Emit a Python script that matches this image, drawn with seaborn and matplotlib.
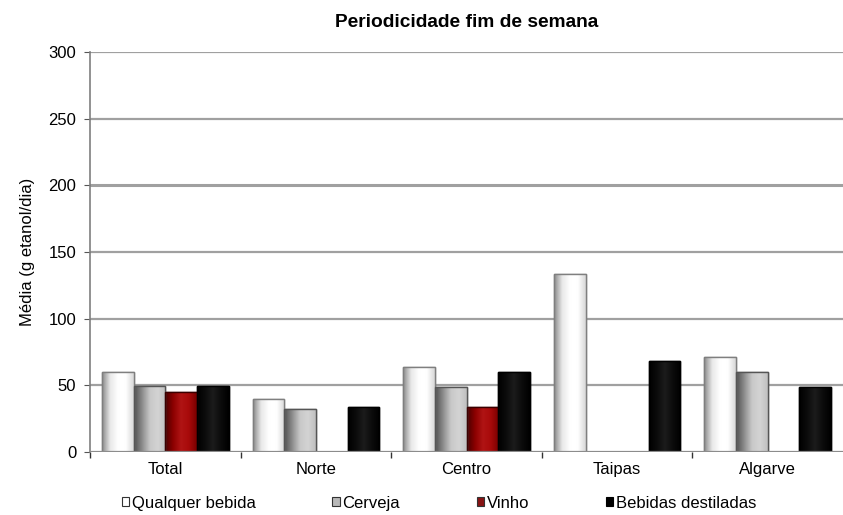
import numpy as np
import pandas as pd
import matplotlib
matplotlib.use("Agg")
import matplotlib.pyplot as plt
from matplotlib.colors import LinearSegmentedColormap
import seaborn as sns

regions = ["Total", "Norte", "Centro", "Taipas", "Algarve"]
drinks = ["Qualquer bebida", "Cerveja", "Vinho", "Bebidas destiladas"]
qualquer = [60, 39.5, 63.5, 133.5, 71]
cerveja = [49.5, 32.5, 48.5, np.nan, 60]
vinho = [45, np.nan, 33.5, np.nan, np.nan]
destiladas = [49.5, 34, 60, 68, 49]

yticks = [0, 50, 100, 150, 200, 250, 300]
title = "Periodicidade fim de semana"
ylabel = "Média (g etanol/dia)"

df = pd.DataFrame({
    "regiao": np.repeat(regions, len(drinks)),
    "bebida": drinks * len(regions),
    "valor": np.array([qualquer, cerveja, vinho, destiladas]).T.ravel(),
})

base_colors = ["#ffffff", "#b8b8b8", "#9a0000", "#000000"]
edge_colors = ["#7f7f7f", "#555555", "#3a0000", "#000000"]
# cylinder-like shading for each series (left -> right)
shades = [
    ["#8a8a8a", "#e8e8e8", "#ffffff", "#ffffff", "#d8d8d8"],
    ["#505050", "#8c8c8c", "#c8c8c8", "#d4d4d4", "#c0c0c0"],
    ["#4a0000", "#8c0000", "#b01414", "#a80a0a", "#7a0000"],
    ["#000000", "#0c0c0c", "#1c1c1c", "#0c0c0c", "#000000"],
]

plt.rcParams["font.family"] = ["Liberation Sans", "DejaVu Sans"]
fig = plt.figure(figsize=(8.43, 5.15), dpi=100)
ax = fig.add_axes([0.107, 0.122, 0.893, 0.777])

sns.barplot(data=df, x="regiao", y="valor", hue="bebida", hue_order=drinks,
            palette=base_colors, width=0.84, gap=0, ax=ax, zorder=2,
            legend=True, err_kws={"linewidth": 0})

# gradient fill over each bar, clipped to the bar shape
for i, cont in enumerate(ax.containers):
    cmap = LinearSegmentedColormap.from_list("s%d" % i, shades[i])
    grad = np.linspace(0, 1, 64).reshape(1, -1)
    for p in cont.patches:
        h = p.get_height()
        if not np.isfinite(h) or h == 0:
            continue
        p.set_edgecolor(edge_colors[i])
        p.set_linewidth(1.0)
        x0, w = p.get_x(), p.get_width()
        im = ax.imshow(grad, cmap=cmap, aspect="auto", extent=(x0, x0 + w, 0, h),
                       zorder=2.5, interpolation="bicubic")
        im.set_clip_path(p)
        # redraw the outline on top
        ax.add_patch(plt.Rectangle((x0, 0), w, h, fill=False,
                                   edgecolor=edge_colors[i], linewidth=1.0, zorder=3))

ax.set_xlim(-0.5, len(regions) - 0.5)
ax.set_ylim(0, 300)
ax.set_yticks(yticks)
ax.set_yticklabels([str(t) for t in yticks], fontsize=12)
for t in yticks[1:]:
    lw = 2.2 if t == 200 else 1.6
    ax.axhline(t, color="#a0a0a0", linewidth=lw, zorder=1)
ax.axhline(0, color="#8c8c8c", linewidth=1.6, zorder=4)

ax.set_xticks(range(len(regions)))
ax.set_xticklabels(regions, fontsize=12)
ax.tick_params(axis="x", length=0, pad=7)
ax.set_xticks(np.arange(-0.5, len(regions) - 0.5), minor=True)
ax.tick_params(axis="x", which="minor", length=4.5, color="#333333", width=1)
ax.tick_params(axis="y", length=4, color="#555555", pad=6)

for s in ["top", "right", "bottom"]:
    ax.spines[s].set_visible(False)
ax.spines["left"].set_color("#7f7f7f")
ax.spines["left"].set_linewidth(1.2)

ax.set_xlabel("")
ax.set_ylabel(ylabel, fontsize=12, labelpad=10)
ax.set_title(title, fontsize=13.8, fontweight="bold", pad=18)

handles, labels = ax.get_legend_handles_labels()
for h, ec in zip(handles, ["#333333", "#333333", "#333333", "#000000"]):
    h.set_edgecolor(ec)
    h.set_linewidth(0.8)
ax.legend(handles, labels, loc="center left", bbox_to_anchor=(0.042, -0.128),
          ncol=4, frameon=False, fontsize=12, handlelength=0.45, handleheight=0.45,
          handletextpad=0.15, columnspacing=4.6, borderaxespad=0, borderpad=0)

fig.savefig("out.png", dpi=100)
